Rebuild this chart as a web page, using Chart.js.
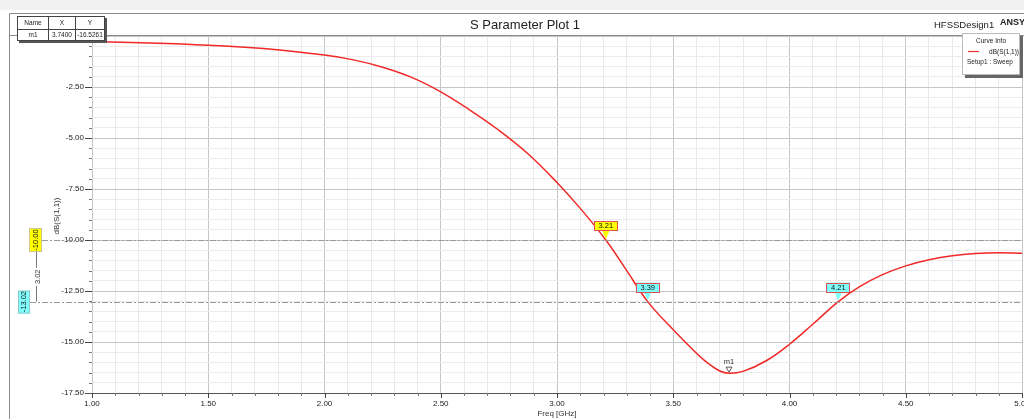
<!DOCTYPE html>
<html><head><meta charset="utf-8">
<script src="https://cdn.jsdelivr.net/npm/chart.js@4.4.0/dist/chart.umd.min.js"></script>
<style>html,body{margin:0;padding:0;background:#fff;overflow:hidden}canvas{display:block}</style>
</head><body><canvas id="c" width="1024" height="419"></canvas>
<script>
// ---- data ----
const freqGHz = [1.00,1.25,1.50,1.75,2.00,2.125,2.25,2.375,2.50,2.625,2.75,2.875,3.00,3.10,3.21,3.30,3.39,3.50,3.60,3.65,3.70,3.74,3.80,3.90,4.00,4.10,4.21,4.30,4.40,4.50,4.60,4.70,4.80,4.90,5.00];
const dbS11 = [-0.27,-0.34,-0.45,-0.62,-0.93,-1.17,-1.53,-2.03,-2.74,-3.63,-4.62,-5.77,-7.18,-8.45,-10.00,-11.50,-13.02,-14.40,-15.55,-16.05,-16.42,-16.53,-16.44,-15.92,-15.11,-14.13,-13.02,-12.30,-11.70,-11.27,-10.97,-10.77,-10.66,-10.62,-10.65];
const refLevels = [-10.00, -13.02];
const refLabels = ['-10.00', '-13.02'];
const deltaLabel = '3.02';
const flagFreqs = [3.21, 3.39, 4.21];
const flagVals = [-10.00, -13.02, -13.02];
const flagLabels = ['3.21', '3.39', '4.21'];
const markerName = 'm1';
const markerX = 3.74;
const markerY = -16.5261;
const tableHeader = ['Name', 'X', 'Y'];
const tableRow = ['m1', '3.7400', '-16.5261'];
const titleText = 'S Parameter Plot 1';
const designText = 'HFSSDesign1';
const brandText = 'ANSY';
const xTitle = 'Freq [GHz]';
const yTitle = 'dB(S(1,1))';
const legendLines = ['Curve Info', 'dB(S(1,1))', 'Setup1 : Sweep'];

const FAM = '"Liberation Sans", Arial, sans-serif';
const font = (s, w) => (w ? w + ' ' : '') + s + 'px ' + FAM;

function rotText(c, txt, x, y) {
  c.save(); c.translate(x, y); c.rotate(-Math.PI / 2);
  c.textAlign = 'center'; c.textBaseline = 'middle'; c.fillText(txt, 0, 0); c.restore();
}

const overlay = {
  id: 'overlay',
  beforeDraw(chart) {
    const c = chart.ctx; c.save();
    c.fillStyle = '#fff'; c.fillRect(0, 0, 1024, 419);
    c.fillStyle = '#f1f1f1'; c.fillRect(0, 0, 1024, 10);
    c.strokeStyle = '#8a8a8a'; c.lineWidth = 1;
    c.beginPath(); c.moveTo(9.5, 13.5); c.lineTo(1024, 13.5);
    c.moveTo(9.5, 13.5); c.lineTo(9.5, 419);
    c.moveTo(9.5, 35.5); c.lineTo(1024, 35.5); c.stroke();
    c.restore();
  },
  afterDatasetsDraw(chart) {
    const c = chart.ctx, ys = chart.scales.y, ca = chart.chartArea;
    c.save();
    c.strokeStyle = '#9a9a9a'; c.lineWidth = 1; c.setLineDash([6, 2, 2, 2]);
    refLevels.forEach((v, i) => {
      const py = Math.round(ys.getPixelForValue(v)) + 0.5;
      c.beginPath(); c.moveTo(i === 0 ? 42 : 30, py); c.lineTo(ca.right, py); c.stroke();
    });
    c.restore();
  },
  afterDraw(chart) {
    const c = chart.ctx, xs = chart.scales.x, ys = chart.scales.y, ca = chart.chartArea;
    c.save();
    c.lineWidth = 1;
    ys.ticks.forEach(t => {
      const py = Math.round(ys.getPixelForValue(t.value)) + 0.5;
      const major = Math.round(t.value * 2) % 5 === 0;
      c.strokeStyle = major ? '#444' : '#777';
      c.beginPath(); c.moveTo(major ? 85 : 89, py); c.lineTo(ca.left, py); c.stroke();
    });
    xs.ticks.forEach(t => {
      const px = Math.round(xs.getPixelForValue(t.value)) + 0.5;
      const major = Math.round(t.value * 10) % 5 === 0;
      c.strokeStyle = major ? '#444' : '#777';
      c.beginPath(); c.moveTo(px, ca.bottom); c.lineTo(px, ca.bottom + (major ? 5 : 3)); c.stroke();
    });
    c.strokeStyle = '#555';
    c.beginPath(); c.moveTo(86, ca.bottom + 0.5); c.lineTo(ca.left, ca.bottom + 0.5); c.stroke();

    c.fillStyle = '#222'; c.textBaseline = 'middle';
    c.font = font(13); c.textAlign = 'center'; c.fillText(titleText, 525, 25);
    c.font = font(9.5); c.textAlign = 'left'; c.fillText(designText, 934, 25);
    c.font = font(9, 'bold'); c.fillText(brandText, 1000, 23);
    c.font = font(8); c.textAlign = 'center'; c.fillStyle = '#333';
    c.fillText(xTitle, 557, 414);
    rotText(c, yTitle, 57, 216);

    const py0 = ys.getPixelForValue(refLevels[0]);
    const py1 = ys.getPixelForValue(refLevels[1]);
    c.fillStyle = '#ffff00'; c.fillRect(29, py0 - 12, 13, 24);
    c.strokeStyle = '#c8c890'; c.strokeRect(29.5, py0 - 11.5, 12, 23);
    c.fillStyle = '#80ffff'; c.fillRect(18, py1 - 11, 12, 23);
    c.strokeStyle = '#90c8c8'; c.strokeRect(18.5, py1 - 10.5, 11, 22);
    c.fillStyle = '#111'; c.font = font(7.5);
    rotText(c, refLabels[0], 35.5, py0);
    rotText(c, refLabels[1], 24, py1);
    c.strokeStyle = '#777';
    c.beginPath(); c.moveTo(36.5, py0 + 12); c.lineTo(36.5, py1); c.stroke();
    const my = (py0 + 12 + py1) / 2;
    c.fillStyle = '#fff'; c.fillRect(33, my - 9, 9, 18);
    c.fillStyle = '#333'; c.font = font(7.5);
    rotText(c, deltaLabel, 38, my);

    flagFreqs.forEach((f, i) => {
      const px = xs.getPixelForValue(f), py = ys.getPixelForValue(flagVals[i]);
      c.fillStyle = i === 0 ? '#ffff00' : '#80ffff';
      c.beginPath(); c.moveTo(px - 4, py - 10); c.lineTo(px + 4, py - 10); c.lineTo(px, py - 1); c.closePath(); c.fill();
      c.fillRect(Math.round(px) - 12, py - 19, 24, 10);
      c.strokeStyle = '#e05050'; c.lineWidth = 1;
      c.strokeRect(Math.round(px) - 11.5, Math.round(py - 19) + 0.5, 23, 9);
      c.fillStyle = '#111'; c.font = font(7.5); c.textAlign = 'center'; c.textBaseline = 'middle';
      c.fillText(flagLabels[i], px, py - 14);
    });

    {
      const px = xs.getPixelForValue(markerX), py = ys.getPixelForValue(markerY);
      c.fillStyle = '#333'; c.font = font(7.5); c.textAlign = 'center';
      c.fillText(markerName, px, py - 11);
      c.strokeStyle = '#333'; c.lineWidth = 0.8;
      c.beginPath(); c.moveTo(px - 3, py - 6); c.lineTo(px + 3, py - 6); c.lineTo(px, py - 1); c.closePath(); c.stroke();
    }

    c.lineWidth = 1;
    c.fillStyle = '#555'; c.fillRect(19, 18, 88, 25);
    c.fillStyle = '#fff'; c.fillRect(17, 16, 88, 25);
    c.strokeStyle = '#444'; c.strokeRect(17.5, 16.5, 87, 24);
    c.beginPath(); c.moveTo(17.5, 29.5); c.lineTo(104.5, 29.5);
    c.moveTo(48.5, 16.5); c.lineTo(48.5, 40.5); c.moveTo(75.5, 16.5); c.lineTo(75.5, 40.5); c.stroke();
    c.fillStyle = '#222'; c.font = font(6.5); c.textAlign = 'center';
    const cx = [33, 62, 90];
    tableHeader.forEach((t, i) => c.fillText(t, cx[i], 23.5));
    tableRow.forEach((t, i) => c.fillText(t, cx[i], 35.5));

    c.fillStyle = '#666'; c.fillRect(965, 36, 58, 42);
    c.fillStyle = '#fff'; c.fillRect(962, 33, 58, 42);
    c.strokeStyle = '#bbb'; c.strokeRect(962.5, 33.5, 57, 41);
    c.fillStyle = '#222'; c.font = font(6.5); c.textAlign = 'center';
    c.fillText(legendLines[0], 991, 41);
    c.strokeStyle = '#f03030'; c.lineWidth = 1.2;
    c.beginPath(); c.moveTo(968, 51.5); c.lineTo(979, 51.5); c.stroke();
    c.textAlign = 'right'; c.fillText(legendLines[1], 1019, 52);
    c.textAlign = 'left'; c.fillText(legendLines[2], 967, 62);
    c.restore();
  }
};

const isMajorX = v => Math.round(v * 10) % 5 === 0;
const isMajorY = v => Math.round(v * 2) % 5 === 0;

new Chart(document.getElementById('c'), {
  type: 'line',
  data: {
    datasets: [{
      data: freqGHz.map((f, i) => ({ x: f, y: dbS11[i] })),
      borderColor: '#f02828', borderWidth: 1.5, pointRadius: 0,
      tension: 0.4, fill: false
    }]
  },
  options: {
    responsive: false, animation: false, devicePixelRatio: 1,
    layout: { padding: { left: 0, top: 36, right: 2, bottom: 0 } },
    plugins: { legend: { display: false }, title: { display: false }, tooltip: { enabled: false } },
    scales: {
      x: {
        type: 'linear', min: 1, max: 5,
        afterFit(s) { s.height = 26; s.paddingLeft = 0; s.paddingRight = 0; },
        ticks: {
          stepSize: 0.1, autoSkip: false, maxRotation: 0, maxTicksLimit: 100, padding: 6,
          font: { size: 8, family: FAM }, color: '#222',
          callback: v => isMajorX(v) ? (Math.round(v * 10) / 10).toFixed(2) : ''
        },
        grid: { drawTicks: false, color: ctx => (ctx.tick && isMajorX(ctx.tick.value)) ? '#c6c6c6' : '#e9e9e9' },
        border: { display: true, color: '#555' }
      },
      y: {
        min: -17.5, max: 0,
        afterFit(s) { s.width = 92; s.paddingTop = 0; s.paddingBottom = 0; },
        ticks: {
          stepSize: 0.5, autoSkip: false, maxTicksLimit: 100, padding: 8,
          font: { size: 8, family: FAM }, color: '#222',
          callback: v => (isMajorY(v) && Math.round(v * 2) !== 0) ? (Math.round(v * 2) / 2).toFixed(2) : ''
        },
        grid: { drawTicks: false, color: ctx => (ctx.tick && isMajorY(ctx.tick.value)) ? '#c6c6c6' : '#ececec' },
        border: { display: false }
      }
    }
  },
  plugins: [overlay]
});
</script>
</body></html>
